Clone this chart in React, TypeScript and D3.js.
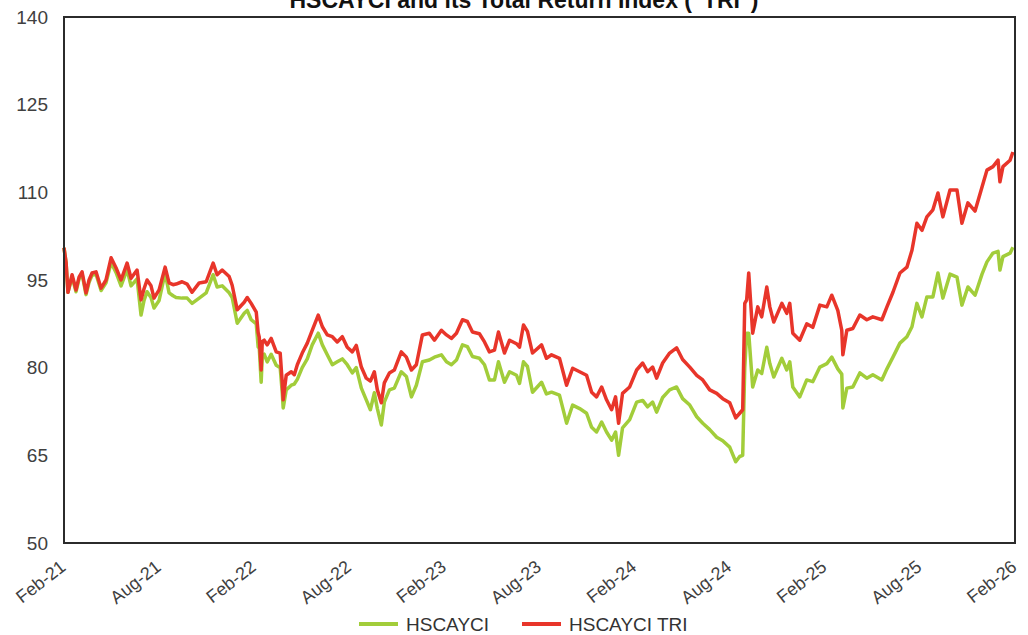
import React from 'react';
import * as d3 from 'd3';

// months since Feb-2021 (fractional)
const months = [
  0, 0.13, 0.25, 0.51, 0.76, 0.95, 1.14, 1.39, 1.58, 1.77, 2.02, 2.34, 2.65, 2.97, 3.28, 3.6, 3.98, 4.23, 4.61, 4.86,
  5.05, 5.24, 5.49, 5.68, 6.0, 6.38, 6.63, 6.88, 7.07, 7.45, 7.77, 8.08, 8.53, 8.97, 9.41, 9.66, 9.98, 10.42, 10.61, 10.93,
  11.37, 11.56, 11.81, 12.13, 12.25, 12.32, 12.44, 12.51, 12.63, 12.82, 13.07, 13.39, 13.64, 13.77, 13.83, 14.02, 14.34, 14.53, 14.72, 15.03,
  15.35, 15.66, 16.04, 16.3, 16.61, 16.93, 17.24, 17.56, 17.87, 18.19, 18.44, 18.76, 19.07, 19.33, 19.58, 19.77, 20.02, 20.21, 20.53, 20.84,
  21.28, 21.6, 21.92, 22.23, 22.61, 23.05, 23.37, 23.81, 24.13, 24.44, 24.76, 25.14, 25.45, 25.77, 26.21, 26.53, 26.84, 27.16, 27.41, 27.79,
  28.11, 28.55, 28.74, 28.99, 29.24, 29.56, 30.13, 30.44, 30.76, 31.26, 31.71, 32.09, 32.53, 32.97, 33.29, 33.6, 33.92, 34.23, 34.55, 34.8,
  34.99, 35.24, 35.69, 36.13, 36.51, 36.82, 37.14, 37.39, 37.77, 38.21, 38.65, 39.03, 39.48, 39.92, 40.3, 40.74, 41.18, 41.56, 42.0, 42.38,
  42.63, 42.82, 42.95, 43.07, 43.2, 43.45, 43.77, 44.02, 44.34, 44.53, 44.78, 45.29, 45.6, 45.79, 45.98, 46.42, 46.86, 47.24, 47.69, 48.13,
  48.44, 48.82, 49.07, 49.14, 49.39, 49.77, 50.21, 50.65, 51.03, 51.6, 51.92, 52.3, 52.74, 53.18, 53.5, 53.81, 54.13, 54.44, 54.82, 55.14,
  55.45, 55.9, 56.34, 56.65, 57.03, 57.48, 57.92, 58.23, 58.61, 58.93, 59.05, 59.24, 59.69, 59.87,
];

const hscayci = [
  100.5, 98, 92.9, 95.5, 93.0, 95.2, 96.0, 92.5, 94.6, 95.8, 96.0, 93.2, 94.5, 98.0, 96.3, 94.0, 96.8, 94.0, 95.2, 89.0,
  91.5, 93, 92, 90.2, 91.5, 96.2, 92.8, 92.3, 92.0, 91.9, 91.9, 91.0, 91.9, 92.8, 95.9, 93.8, 94.0, 92.8, 92.0, 87.6,
  89.3, 89.8, 88.2, 87.5, 83.5, 83.4, 77.5, 82, 82.3, 81, 82.3, 80.4, 80.0, 75.7, 73.1, 76.2, 77.0, 77.2, 78.0, 80.0,
  81.5, 83.9, 85.9, 83.9, 82.2, 80.5, 81.0, 81.5, 80.5, 79.1, 80.0, 76.5, 74.5, 72.8, 75.7, 73.0, 70.2, 74.1, 76.2, 76.5,
  79.3, 78.5, 75.0, 77.0, 81.0, 81.3, 81.8, 82.2, 81.0, 80.5, 81.3, 83.9, 83.6, 81.9, 81.6, 80.5, 77.9, 77.9, 81.0, 77.5,
  79.3, 78.7, 77.3, 81.0, 80.2, 75.8, 77.5, 75.5, 75.8, 75.3, 70.5, 73.6, 73.0, 72.2, 69.8, 69.0, 70.7, 69.0, 67.6, 69.0,
  65.0, 69.7, 71.1, 74.1, 74.4, 73.3, 74.1, 72.4, 74.9, 76.2, 76.7, 74.7, 73.6, 71.6, 70.5, 69.4, 68.1, 67.5, 66.4, 63.9,
  64.8, 65.0, 80.0, 85.9, 85.9, 76.7, 79.6, 79.0, 83.5, 80.7, 78.4, 81.6, 79.6, 81.0, 76.7, 75.0, 77.9, 77.6, 80.1, 80.7,
  81.8, 79.8, 78.9, 73.1, 76.5, 76.7, 79.1, 78.2, 78.8, 77.9, 79.8, 81.8, 84.2, 85.3, 87.0, 91.0, 88.7, 92.1, 92.1, 96.2,
  91.9, 96.0, 95.5, 90.7, 93.8, 92.4, 96.0, 98.1, 99.6, 99.9, 96.7, 99.0, 99.6, 100.6,
];

const hscayciTri = [
  100.5, 98, 92.9, 95.9, 93.3, 95.5, 96.4, 92.8, 95, 96.2, 96.4, 93.6, 95.0, 98.8, 97.1, 95.0, 97.9, 95.3, 96.7, 91.6,
  93.5, 95, 94, 91.9, 93.3, 97.2, 94.5, 94.2, 94.3, 94.7, 94.3, 92.9, 94.5, 94.7, 97.9, 95.9, 96.7, 95.6, 94.1, 89.9,
  91.2, 92.0, 91.0, 89.5, 86, 85.2, 79.6, 84.5, 84.7, 83.9, 85.0, 82.7, 82.5, 77.4, 74.5, 78.7, 79.3, 78.8, 80.5, 82.5,
  84.2, 86.4, 89.0, 87.0, 85.6, 85.3, 84.4, 85.3, 83.5, 82.7, 83.8, 80.1, 78.2, 77.7, 79.3, 76.2, 74.0, 77.4, 79.1, 79.6,
  82.7, 81.8, 79.6, 80.5, 85.6, 85.9, 84.7, 86.4, 85.6, 85.0, 85.9, 88.2, 87.9, 86.1, 85.8, 84.4, 82.7, 83.0, 86.1, 82.5,
  84.7, 84.1, 83.5, 87.3, 86.2, 82.5, 83.9, 81.6, 82.2, 81.6, 77.0, 79.9, 79.3, 78.7, 75.8, 75.0, 76.7, 74.5, 72.8, 75.0,
  70.5, 75.6, 76.7, 79.6, 80.8, 79.3, 80.1, 78.2, 80.8, 82.5, 83.4, 81.4, 80.1, 78.7, 77.9, 76.2, 75.6, 74.7, 74.0, 71.4,
  72.2, 72.8, 91.0, 91.6, 96.2, 85.9, 90.4, 88.7, 93.8, 90.4, 87.8, 91.0, 89.3, 91.0, 85.9, 84.7, 87.5, 86.9, 90.7, 90.4,
  92.4, 89.8, 86.4, 82.2, 86.4, 86.7, 89.0, 88.2, 88.7, 88.2, 90.4, 92.9, 96.2, 97.2, 100.1, 104.7, 103.5, 105.8, 107.0, 109.9,
  105.8, 110.4, 110.4, 104.7, 108.2, 106.8, 110.9, 113.8, 114.4, 115.5, 111.8, 114.4, 115.5, 116.9,
];

const xTickMonths = [0, 6, 12, 18, 24, 30, 36, 42, 48, 54, 60];
const xTickLabels = ['Feb-21', 'Aug-21', 'Feb-22', 'Aug-22', 'Feb-23', 'Aug-23', 'Feb-24', 'Aug-24', 'Feb-25', 'Aug-25', 'Feb-26'];
const yTicks = [50, 65, 80, 95, 110, 125, 140];

const seriesNames = ['HSCAYCI', 'HSCAYCI TRI'];
const seriesColors = ['#a2cd3a', '#e8352a'];

const W = 1028;
const H = 635;
const margin = { top: 17, right: 13, bottom: 92, left: 64 };

export default function App() {
  const x = d3.scaleLinear().domain([0, 60]).range([margin.left, W - margin.right]);
  const y = d3.scaleLinear().domain([50, 140]).range([H - margin.bottom, margin.top]);

  const line = d3
    .line<number>()
    .x((_, i) => x(months[i]))
    .y((d) => y(d));

  const series = [hscayci, hscayciTri];
  const font = "'Liberation Sans', Arial, sans-serif";

  return (
    <svg
      width={W}
      height={H}
      style={{ position: 'fixed', left: 0, top: 0, background: '#fff' }}
      fontFamily={font}
    >
      <text x={524} y={8} textAnchor="middle" fontSize={23} fontWeight="bold" fill="#111">
        HSCAYCI and its Total Return Index ("TRI")
      </text>

      {series.map((s, k) => (
        <path key={k} d={line(s) || ''} fill="none" stroke={seriesColors[k]} strokeWidth={3.5} strokeLinejoin="round" />
      ))}

      <rect
        x={margin.left}
        y={margin.top}
        width={W - margin.left - margin.right}
        height={H - margin.top - margin.bottom}
        fill="none"
        stroke="#2b2b2b"
        strokeWidth={2}
      />

      {yTicks.map((t) => (
        <text key={t} x={48} y={y(t)} dy="0.35em" textAnchor="end" fontSize={19} fill="#404040">
          {t}
        </text>
      ))}

      {xTickMonths.map((m, i) => (
        <text
          key={m}
          transform={`translate(${x(m) + 3},${y(50) + 26}) rotate(-38)`}
          textAnchor="end"
          fontSize={18}
          fill="#404040"
        >
          {xTickLabels[i]}
        </text>
      ))}

      {seriesNames.map((n, k) => {
        const lx = [359, 522][k];
        return (
          <g key={n}>
            <line x1={lx} x2={lx + 39} y1={624} y2={624} stroke={seriesColors[k]} strokeWidth={4} />
            <text x={lx + 47} y={624} dy="0.35em" fontSize={19} fill="#333">
              {n}
            </text>
          </g>
        );
      })}
    </svg>
  );
}
